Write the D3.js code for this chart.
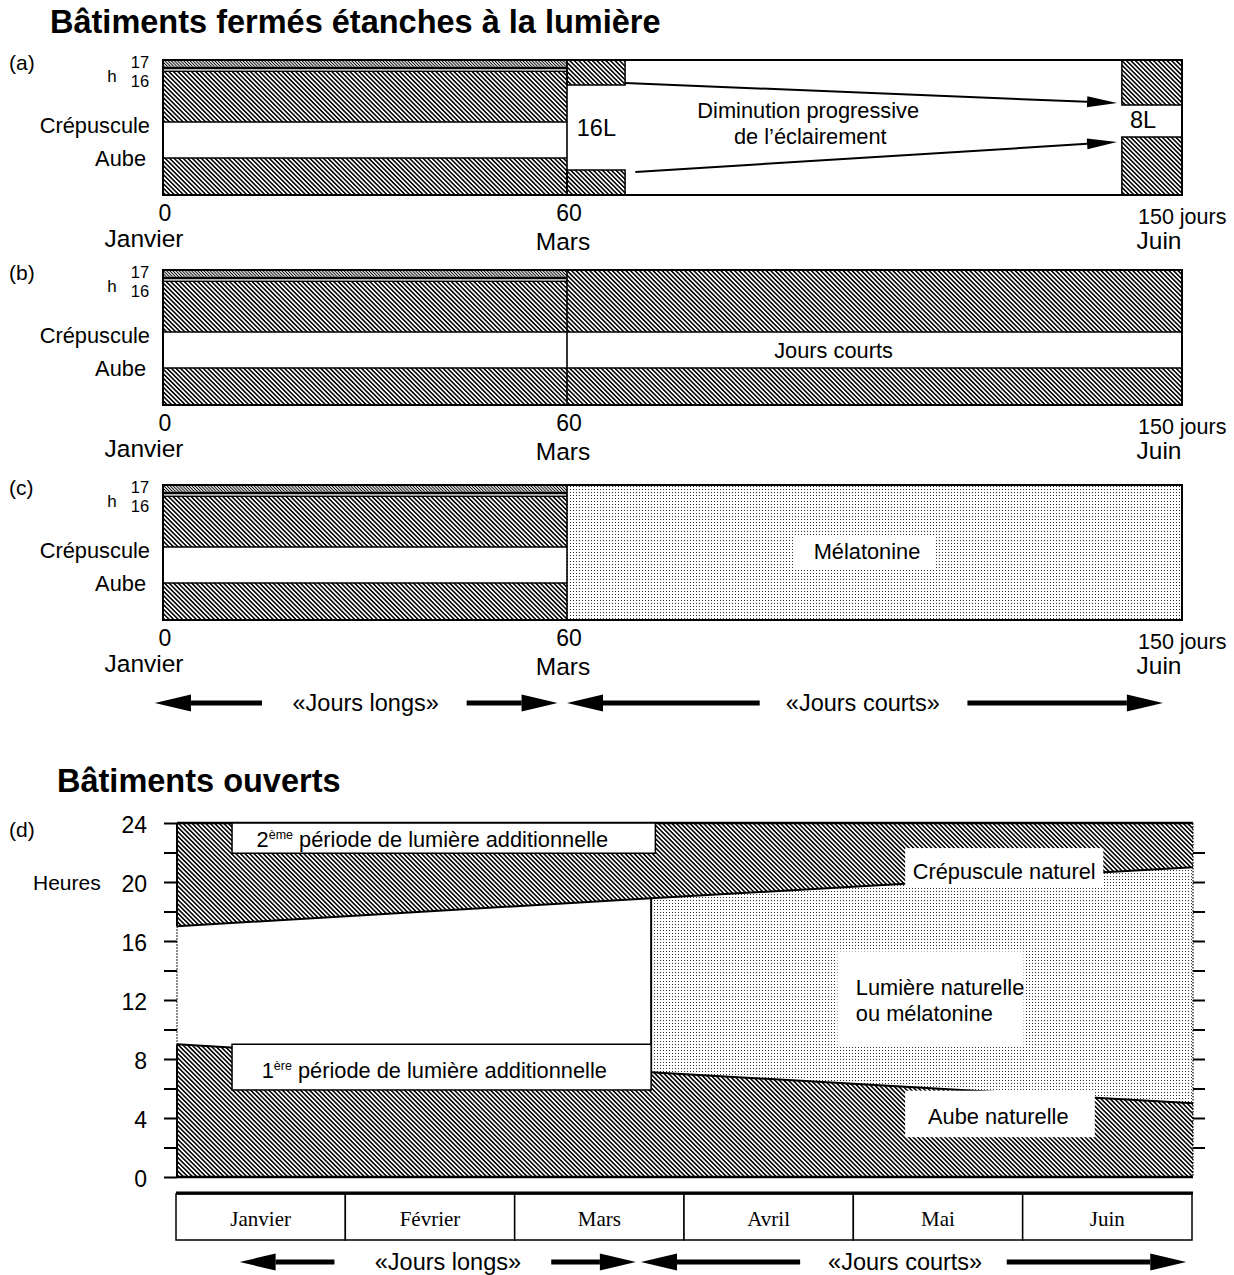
<!DOCTYPE html>
<html><head><meta charset="utf-8">
<script src="https://cdn.jsdelivr.net/npm/d3@7"></script>
<style>
body{margin:0;background:#fff}
svg text{font-family:"Liberation Sans",Arial,Helvetica,sans-serif;fill:#000}
</style>
</head><body>
<svg id="c" width="1234" height="1275"></svg>
<script>
// ---------------- DATA ----------------
const titleClosed = "Bâtiments fermés étanches à la lumière";
const titleOpen = "Bâtiments ouverts";
const panelIds = ["(a)", "(b)", "(c)"];
const dayPhases = [0, 60, 150];               // days: start, switch, end
const dayTickLabels = ["0", "60", "150 jours"];
const dayMonthLabels = ["Janvier", "Mars", "Juin"];
const hourMarks = ["17", "16"];
const rowLabels = ["Crépuscule", "Aube"];
const photoperiods = ["16L", "8L"];
const decreaseText = ["Diminution progressive", "de l’éclairement"];
const panelBText = "Jours courts";
const panelCText = "Mélatonine";
const longShort = ["«Jours longs»", "«Jours courts»"];

const months = ["Janvier", "Février", "Mars", "Avril", "Mai", "Juin"];
const hourTicks = [0, 4, 8, 12, 16, 20, 24];
const hourMinor = [2, 6, 10, 14, 18, 22];
const duskMonth = [0, 2.8, 4.4, 6];
const duskHour  = [17, 18.9, 19.95, 21];
const dawnMonth = [0, 2.8, 6];
const dawnHour  = [9, 7.1, 5];
const switchMonth = 2.8;
const extraLightNums = ["2", "1"];
const extraLightSups = ["ème", "ère"];
const extraLightText = "période de lumière additionnelle";
const openLabels = ["Crépuscule naturel", "Lumière naturelle", "ou mélatonine", "Aube naturelle"];

// ---------------- SETUP ----------------
const svg = d3.select("#c");
const defs = svg.append("defs");
function hatch(id, spacing, sw) {
  const p = defs.append("pattern").attr("id", id).attr("patternUnits", "userSpaceOnUse")
    .attr("width", spacing).attr("height", spacing).attr("patternTransform", "rotate(-45)");
  p.append("rect").attr("width", spacing).attr("height", spacing).attr("fill", "#fff");
  p.append("line").attr("x1", spacing / 2).attr("y1", -1).attr("x2", spacing / 2).attr("y2", spacing + 1)
    .attr("stroke", "#000").attr("stroke-width", sw);
}
hatch("hatch", 3.2, 1.55);
hatch("fine", 2.2, 1.0);
const dp = defs.append("pattern").attr("id", "dots").attr("patternUnits", "userSpaceOnUse")
  .attr("width", 3).attr("height", 3);
dp.append("rect").attr("width", 3).attr("height", 3).attr("fill", "#fff");
dp.append("rect").attr("width", 1).attr("height", 1).attr("fill", "#333");

function arrow(g, x1, y1, x2, y2, hl, hw, sw) {
  const a = Math.atan2(y2 - y1, x2 - x1);
  const bx = x2 - hl * Math.cos(a), by = y2 - hl * Math.sin(a);
  g.append("line").attr("x1", x1).attr("y1", y1).attr("x2", bx).attr("y2", by)
    .attr("stroke", "#000").attr("stroke-width", sw);
  const nx = -Math.sin(a) * hw / 2, ny = Math.cos(a) * hw / 2;
  g.append("path").attr("d", `M${x2},${y2}L${bx + nx},${by + ny}L${bx - nx},${by - ny}Z`).attr("fill", "#000");
}
function txt(g, x, y, s, size, anchor, extra) {
  const t = g.append("text").attr("x", x).attr("y", y).attr("font-size", size)
    .attr("text-anchor", anchor || "start").text(s);
  if (extra) extra(t);
  return t;
}

// ---------------- CLOSED BUILDINGS ----------------
txt(svg, 50, 33, titleClosed, 32.5, "start", t => t.attr("font-weight", "bold"));

const xDay = d3.scaleLinear().domain([0, 60, 150]).range([163, 567, 1182]);
const PH = 135;
const panelTops = [60, 270, 485];

panelIds.forEach((pid, i) => {
  const top = panelTops[i];
  const y = d3.scaleLinear().domain([0, PH]).range([top, top + PH]);
  const g = svg.append("g");
  const x0 = xDay(dayPhases[0]), x1 = xDay(dayPhases[1]), x2 = xDay(dayPhases[2]);
  // long-day block (0-60)
  g.append("rect").attr("x", x0).attr("y", y(0)).attr("width", x1 - x0).attr("height", y(6.7) - y(0)).attr("fill", "url(#fine)");
  g.append("rect").attr("x", x0).attr("y", y(6.7)).attr("width", x1 - x0).attr("height", y(9.3) - y(6.7)).attr("fill", "#000");
  g.append("rect").attr("x", x0).attr("y", y(9.3)).attr("width", x1 - x0).attr("height", y(10.7) - y(9.3)).attr("fill", "#bbb");
  g.append("rect").attr("x", x0).attr("y", y(10.7)).attr("width", x1 - x0).attr("height", y(12) - y(10.7)).attr("fill", "#000");
  g.append("rect").attr("x", x0).attr("y", y(12)).attr("width", x1 - x0).attr("height", y(62) - y(12)).attr("fill", "url(#hatch)");
  g.append("rect").attr("x", x0).attr("y", y(98)).attr("width", x1 - x0).attr("height", y(PH) - y(98)).attr("fill", "url(#hatch)");
  [62, 98].forEach(v => g.append("line").attr("x1", x0).attr("x2", x1).attr("y1", y(v)).attr("y2", y(v)).attr("stroke", "#000").attr("stroke-width", 1.5));

  if (i === 0) {
    const a0 = xDay(68.5), b0 = xDay(141.2);
    [[x1, a0, 0, 25], [x1, a0, 110, PH], [b0, x2, 0, 45], [b0, x2, 77, PH]].forEach(r => {
      g.append("rect").attr("x", r[0]).attr("y", y(r[2])).attr("width", r[1] - r[0]).attr("height", y(r[3]) - y(r[2]))
        .attr("fill", "url(#hatch)").attr("stroke", "#000").attr("stroke-width", 1.5);
    });
    arrow(g, a0, y(23), xDay(140.5), y(43), 30, 11, 2);
    arrow(g, xDay(70), y(112), xDay(140.5), y(82), 30, 11, 2);
    txt(g, xDay(64.3), y(76), photoperiods[0], 23.5, "middle");
    txt(g, xDay(144.3), y(68), photoperiods[1], 23.5, "middle");
    txt(g, xDay(95.3), y(58), decreaseText[0], 21.8, "middle");
    txt(g, xDay(95.6), y(84), decreaseText[1], 21.8, "middle");
  } else if (i === 1) {
    g.append("rect").attr("x", x1).attr("y", y(0)).attr("width", x2 - x1).attr("height", y(62) - y(0)).attr("fill", "url(#hatch)");
    g.append("rect").attr("x", x1).attr("y", y(98)).attr("width", x2 - x1).attr("height", y(PH) - y(98)).attr("fill", "url(#hatch)");
    [62, 98].forEach(v => g.append("line").attr("x1", x1).attr("x2", x2).attr("y1", y(v)).attr("y2", y(v)).attr("stroke", "#000").attr("stroke-width", 1.5));
    txt(g, xDay(99), y(88), panelBText, 21.8, "middle");
  } else {
    g.append("rect").attr("x", x1).attr("y", y(0)).attr("width", x2 - x1).attr("height", PH).attr("fill", "url(#dots)");
    g.append("rect").attr("x", xDay(93.3)).attr("y", y(50)).attr("width", xDay(113.8) - xDay(93.3)).attr("height", 33).attr("fill", "#fff");
    txt(g, xDay(103.9), y(74), panelCText, 21.8, "middle");
  }
  // divider at day 60 and frame
  g.append("line").attr("x1", x1).attr("x2", x1).attr("y1", y(0)).attr("y2", y(PH)).attr("stroke", "#000").attr("stroke-width", 1.6);
  g.append("rect").attr("x", x0).attr("y", y(0)).attr("width", x2 - x0).attr("height", PH)
    .attr("fill", "none").attr("stroke", "#000").attr("stroke-width", 2);

  // left labels
  txt(g, 9, y(10), pid, 21, "start");
  txt(g, 140, y(7.5), hourMarks[0], 16.5, "middle");
  txt(g, 140, y(26.5), hourMarks[1], 16.5, "middle");
  txt(g, 112, y(22), "h", 17, "middle");
  txt(g, 150, y(72.5), rowLabels[0], 21.8, "end");
  txt(g, 146, y(106), rowLabels[1], 21.8, "end");
  // x labels
  txt(g, xDay(dayPhases[0]) + 2, y(PH + 26), dayTickLabels[0], 23, "middle");
  txt(g, xDay(dayPhases[1]) + 2, y(PH + 26), dayTickLabels[1], 23, "middle");
  txt(g, xDay(dayPhases[2]) - 44, y(PH + 29), dayTickLabels[2], 21.5, "start");
  txt(g, xDay(dayPhases[0]) - 19, y(PH + 52), dayMonthLabels[0], 24.5, "middle");
  txt(g, xDay(dayPhases[1]) - 4, y(PH + 55), dayMonthLabels[1], 24.5, "middle");
  txt(g, xDay(dayPhases[2]) - 23, y(PH + 54), dayMonthLabels[2], 24.5, "middle");
});

// long/short days arrows (row 1)
{
  const g = svg.append("g"), yy = 703;
  arrow(g, xDay(14.7), yy, xDay(-1.2), yy, 36, 17, 5);
  txt(g, xDay(30.1), yy + 8, longShort[0], 23.5, "middle");
  arrow(g, xDay(45.1), yy, xDay(58.6), yy, 36, 17, 5);
  arrow(g, xDay(88.2), yy, xDay(60), yy, 36, 17, 5);
  txt(g, xDay(103.3), yy + 8, longShort[1], 23.5, "middle");
  arrow(g, xDay(118.6), yy, xDay(147.2), yy, 36, 17, 5);
}

// ---------------- OPEN BUILDINGS ----------------
txt(svg, 57, 792, titleOpen, 32.5, "start", t => t.attr("font-weight", "bold"));

const xM = d3.scaleLinear().domain([0, 6]).range([177, 1193]);
const yH = d3.scaleLinear().domain([0, 24]).range([1177, 823]);
const gd = svg.append("g");
const dusk = duskMonth.map((m, i) => [m, duskHour[i]]);
const dawn = dawnMonth.map((m, i) => [m, dawnHour[i]]);
const line = d3.line().x(d => xM(d[0])).y(d => yH(d[1]));

// upper hatch
gd.append("path").attr("d", line([[0, 24], [6, 24], ...dusk.slice().reverse()]) + "Z").attr("fill", "url(#hatch)");
// lower hatch
gd.append("path").attr("d", line([[0, 0], ...dawn, [6, 0]]) + "Z").attr("fill", "url(#hatch)");
// stipple
const duskR = dusk.filter(d => d[0] >= switchMonth), dawnR = dawn.filter(d => d[0] >= switchMonth);
gd.append("path").attr("d", line([...duskR, ...dawnR.slice().reverse()]) + "Z").attr("fill", "url(#dots)");
// boundary lines
gd.append("path").attr("d", line(dusk)).attr("fill", "none").attr("stroke", "#000").attr("stroke-width", 2);
gd.append("path").attr("d", line(dawn)).attr("fill", "none").attr("stroke", "#000").attr("stroke-width", 2);
// stipple left edge
gd.append("line").attr("x1", xM(switchMonth)).attr("x2", xM(switchMonth))
  .attr("y1", yH(duskR[0][1])).attr("y2", yH(dawnR[0][1])).attr("stroke", "#000").attr("stroke-width", 2);
// frame lines
gd.append("line").attr("x1", xM(0)).attr("x2", xM(6)).attr("y1", yH(24)).attr("y2", yH(24)).attr("stroke", "#000").attr("stroke-width", 2.5);
gd.append("line").attr("x1", xM(0)).attr("x2", xM(6)).attr("y1", yH(0)).attr("y2", yH(0)).attr("stroke", "#000").attr("stroke-width", 2.5);
gd.append("line").attr("x1", xM(0)).attr("x2", xM(0)).attr("y1", yH(24)).attr("y2", yH(duskHour[0])).attr("stroke", "#000").attr("stroke-width", 2);
gd.append("line").attr("x1", xM(0)).attr("x2", xM(0)).attr("y1", yH(dawnHour[0])).attr("y2", yH(0)).attr("stroke", "#000").attr("stroke-width", 2);
gd.append("line").attr("x1", xM(0)).attr("x2", xM(0)).attr("y1", yH(duskHour[0])).attr("y2", yH(dawnHour[0]))
  .attr("stroke", "#000").attr("stroke-width", 1.2).attr("stroke-dasharray", "1.5,1.5");
gd.append("line").attr("x1", xM(6)).attr("x2", xM(6)).attr("y1", yH(24)).attr("y2", yH(0))
  .attr("stroke", "#000").attr("stroke-width", 1.2).attr("stroke-dasharray", "1.5,1.5");

// label boxes
function box(m0, m1, h0, h1, stroke) {
  gd.append("rect").attr("x", xM(m0)).attr("y", yH(h1)).attr("width", xM(m1) - xM(m0)).attr("height", yH(h0) - yH(h1))
    .attr("fill", "#fff").attr("stroke", stroke ? "#000" : "none").attr("stroke-width", 1.5);
}
box(0.325, 2.825, 21.95, 24, true);
box(0.325, 2.8, 5.9, 9.0, true);
box(4.30, 5.47, 19.6, 22.3, false);
box(3.90, 5.0, 8.9, 15.3, false);
box(4.30, 5.42, 2.7, 5.85, false);

function supText(x, yv, num, sup, rest) {
  const t = gd.append("text").attr("x", x).attr("y", yv).attr("font-size", 21.8);
  t.append("tspan").text(num);
  t.append("tspan").attr("font-size", 12.5).attr("dy", -8).text(sup);
  t.append("tspan").attr("dy", 8).text(" " + rest);
}
supText(xM(0.47), yH(22.4), extraLightNums[0], extraLightSups[0], extraLightText);
supText(xM(0.5), yH(6.7), extraLightNums[1], extraLightSups[1], extraLightText);
txt(gd, xM(4.885), yH(20.17), openLabels[0], 21.8, "middle");
txt(gd, xM(3.95) + 10, yH(12.35), openLabels[1], 21.8, "start");
txt(gd, xM(3.95) + 10, yH(10.55), openLabels[2], 21.8, "start");
txt(gd, xM(4.85), yH(3.6), openLabels[3], 21.8, "middle");

// axes
const axL = d3.axisLeft(yH).tickValues([...hourTicks, ...hourMinor]).tickSize(13).tickPadding(17)
  .tickFormat(d => hourTicks.includes(d) ? d : "");
const gl = svg.append("g").attr("transform", `translate(${xM(0)},0)`).call(axL);
gl.select(".domain").remove();
gl.selectAll(".tick line").attr("stroke-width", 2);
gl.selectAll(".tick text").attr("font-size", 23).attr("dy", "0.42em").attr("font-family", '"Liberation Sans",Arial,sans-serif');
const axR = d3.axisRight(yH).tickValues(d3.range(2, 24, 2)).tickSize(12).tickFormat("");
const gr = svg.append("g").attr("transform", `translate(${xM(6)},0)`).call(axR);
gr.select(".domain").remove();
gr.selectAll(".tick line").attr("stroke-width", 2);
txt(svg, 9, yH(24) + 14, "(d)", 21, "start");
txt(svg, 33, yH(20) + 8, "Heures", 21, "start");

// month bar
const mb = d3.scaleBand().domain(months).range([176, 1192]);
const gm = svg.append("g");
gm.selectAll("rect").data(months).join("rect")
  .attr("x", d => mb(d)).attr("y", 1194).attr("width", mb.bandwidth()).attr("height", 46)
  .attr("fill", "#fff").attr("stroke", "#000").attr("stroke-width", 1.5);
gm.append("line").attr("x1", 176).attr("x2", 1193).attr("y1", 1193).attr("y2", 1193).attr("stroke", "#000").attr("stroke-width", 3);
gm.selectAll("text").data(months).join("text")
  .attr("x", d => mb(d) + mb.bandwidth() / 2).attr("y", 1226).attr("text-anchor", "middle")
  .attr("font-size", 21).style("font-family", '"Liberation Serif","Times New Roman",serif').text(d => d);

// long/short days arrows (row 2)
{
  const g = svg.append("g"), yy = 1262;
  arrow(g, xM(0.93), yy, xM(0.37), yy, 36, 17, 5);
  txt(g, xM(1.6), yy + 8, longShort[0], 23.5, "middle");
  arrow(g, xM(2.21), yy, xM(2.71), yy, 36, 17, 5);
  arrow(g, xM(3.68), yy, xM(2.74), yy, 36, 17, 5);
  txt(g, xM(4.3), yy + 8, longShort[1], 23.5, "middle");
  arrow(g, xM(4.9), yy, xM(5.96), yy, 36, 17, 5);
}
</script>
</body></html>
